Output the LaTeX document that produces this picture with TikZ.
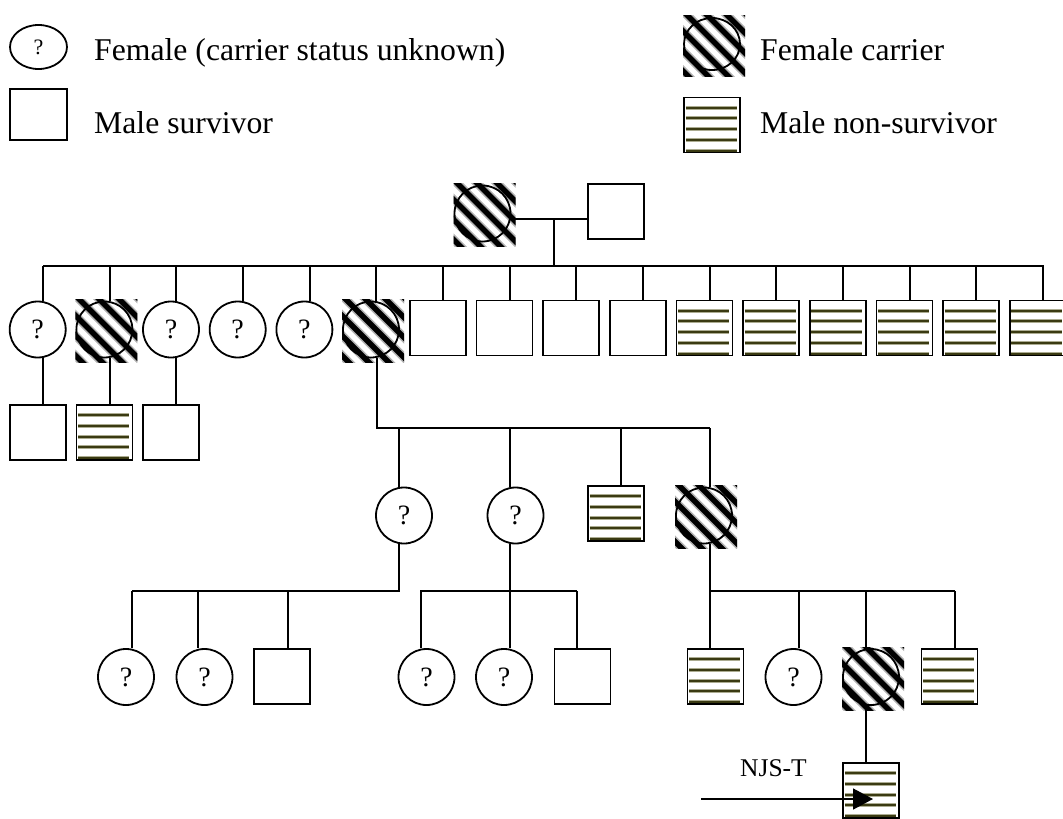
\documentclass[tikz,border=0pt]{standalone}
\usepackage{fontspec}
\setmainfont{Liberation Serif}
\usetikzlibrary{arrows.meta,shapes.geometric}
\definecolor{olivedark}{RGB}{58,58,18}
\definecolor{olivelight}{RGB}{172,172,145}
\newcommand\legfont{\fontsize{31.7}{38}\selectfont}
\newcommand\qfont{\fontsize{28}{32}\selectfont}
\newcommand\legqfont{\fontsize{22}{26}\selectfont}
\newcommand\njsfont{\fontsize{25.5}{30}\selectfont}
\tikzset{
  lw/.style={line width=1.8pt},
  fem/.style={circle, draw, lw, minimum size=56pt, inner sep=0pt, font=\qfont},
  msq/.style={rectangle, draw, lw, minimum width=56pt, minimum height=55pt, inner sep=0pt},
  hatchsoft/.style={line width=8.5pt, black!30},
  hatchcore/.style={line width=5.5pt, black},
  stripsoft/.style={line width=4pt, olivelight},
  stripcore/.style={line width=2pt, olivedark},
  legtext/.style={anchor=base west, inner sep=0pt, font=\legfont},
  link/.style={lw},
}
% diagonal stripes clipped to a box
\newcommand\hatchbox[4]{%
  \begin{scope}
    \clip (#1,#2) rectangle (#3,#4);
    \foreach \k in {-5,...,5}{
      \pgfmathsetmacro\sx{#1+4+20*(\k)-10}
      \pgfmathsetmacro\sy{#2-10}
      \draw[hatchsoft] (\sx,\sy) -- ++(95,95);
      \draw[hatchcore] (\sx,\sy) -- ++(95,95);
    }
  \end{scope}}
\newcommand\hatchc[3]{%
  \hatchbox{#2-29}{#3-30}{#2+33}{#3+33}%
  \node[fem] (#1) at (#2,#3) {};}
\newcommand\stripsq[3]{%
  \foreach \j in {0,...,4}{
    \pgfmathsetmacro\yy{#3-28+10.7+10.7*(\j)}
    \draw[stripsoft] (#2-26.5,\yy) -- (#2+24.5,\yy);
    \draw[stripcore] (#2-26.5,\yy) -- (#2+24.5,\yy);
  }
  \node[msq] (#1) at (#2,#3) {};}
\begin{document}
\begin{tikzpicture}[x=1pt,y=-1pt]
\useasboundingbox (0,0) rectangle (1063,819);

% ---------- legend ----------
\node[ellipse, draw, lw, minimum width=57pt, minimum height=44pt, inner sep=0pt, font=\legqfont] (legF) at (38.5,47) {?};
\node[msq, minimum width=57pt, minimum height=51pt] (legM) at (38.5,114.5) {};
\node[legtext] (legFt) at (94,60) {Female (carrier status unknown)};
\node[legtext] (legMt) at (94,133) {Male survivor};
\hatchbox{683}{15}{745}{76}
\node[ellipse, draw, lw, minimum width=56pt, minimum height=52pt, inner sep=0pt] (legC) at (712,44) {};
\stripsq{legN}{712}{125}
\node[legtext] (legCt) at (760,60) {Female carrier};
\node[legtext] (legNt) at (760,133) {Male non-survivor};

% ---------- generation I ----------
\hatchc{I1}{482.5}{213.5}
\node[msq] (I2) at (616,211.5) {};
\coordinate (mI) at (554,219);
\coordinate (barII) at (43,266);
\draw[link] ([yshift=-5.5pt]I1.east) -- (mI) -- ([yshift=-7.5pt]I2.west);
\draw[link] (mI) -- (mI |- barII);

% ---------- generation II ----------
\node[fem] (n1) at (37.7,329.5) {?};
\hatchc{n2}{104.4}{329.5}
\node[fem] (n3) at (171.0,329.5) {?};
\node[fem] (n4) at (237.7,329.5) {?};
\node[fem] (n5) at (304.4,329.5) {?};
\hatchc{n6}{371.0}{329.5}
\node[msq] (n7) at (437.7,328) {};
\node[msq] (n8) at (504.4,328) {};
\node[msq] (n9) at (571.0,328) {};
\node[msq] (n10) at (637.7,328) {};
\stripsq{n11}{704.4}{328}
\stripsq{n12}{771.0}{328}
\stripsq{n13}{837.7}{328}
\stripsq{n14}{904.4}{328}
\stripsq{n15}{971.0}{328}
\stripsq{n16}{1037.7}{328}
\foreach \i in {1,...,16}{
  \draw[link] ([xshift=5.3pt]n\i.north) |- (barII);
}

% ---------- generation III (left) ----------
\node[msq] (p1) at (37.7,432.5) {};
\stripsq{p2}{104.4}{432.5}
\node[msq] (p3) at (171.0,432.5) {};
\foreach \i in {1,2,3}{
  \draw[link] ([xshift=5.3pt]n\i.south) -- ([xshift=5.3pt]p\i.north);
}

% ---------- generation III (from n6) ----------
\coordinate (barIII) at (710,428);
\node[fem] (gA) at (404,515.5) {?};
\node[fem] (gB) at (515.5,515.5) {?};
\stripsq{gC}{616}{513.5}
\hatchc{gD}{704}{515.5}
\draw[link] ([xshift=6pt]n6.south) |- (barIII);
\draw[link] ([xshift=-5pt]gA.north) |- (barIII);
\draw[link] ([xshift=-5.5pt]gB.north) |- (barIII);
\draw[link] ([xshift=5pt]gC.north) |- (barIII);
\draw[link] ([xshift=6pt]gD.north) |- (barIII);

% ---------- generation IV ----------
\coordinate (barIVa) at (132,591);
\node[fem] (h1) at (126,677) {?};
\node[fem] (h2) at (204.5,677) {?};
\node[msq] (h3) at (282,676.5) {};
\draw[link] ([xshift=-5pt]gA.south) |- (barIVa);
\draw[link] ([xshift=6pt]h1.north) |- (barIVa);
\draw[link] ([xshift=-6.5pt]h2.north) |- (barIVa);
\draw[link] ([xshift=6pt]h3.north) |- (barIVa);

\coordinate (barIVb) at (577,591);
\node[fem] (j1) at (426.5,677) {?};
\node[fem] (j2) at (504,677) {?};
\node[msq] (j3) at (582.5,676.5) {};
\draw[link] ([xshift=-5.5pt]gB.south) -- ([xshift=6pt]j2.north);
\draw[link] ([xshift=-5.5pt]j1.north) |- (barIVb);
\draw[link] ([xshift=-5.5pt]j3.north) |- (barIVb);

\coordinate (barIVc) at (955,591);
\stripsq{k1}{715.5}{676.5}
\node[fem] (k2) at (793.5,677) {?};
\hatchc{k3}{871}{677}
\stripsq{k4}{949.5}{676.5}
\draw[link] ([xshift=6pt]gD.south) -- ([xshift=-5.5pt]k1.north);
\draw[link] ([xshift=-5.5pt]k1.north) |- (barIVc);
\draw[link] ([xshift=5.5pt]k2.north) |- (barIVc);
\draw[link] ([xshift=-5pt]k3.north) |- (barIVc);
\draw[link] ([xshift=5.5pt]k4.north) |- (barIVc);

% ---------- generation V ----------
\stripsq{l1}{871}{790.5}
\draw[link] ([xshift=-5pt]k3.south) -- ([xshift=-5pt]l1.north);

% ---------- proband arrow ----------
\coordinate (astart) at (701,799);
\draw[line width=1.6pt, -{Triangle[length=20pt,width=21pt]}] (astart) -- ([xshift=2pt,yshift=-8.5pt]l1.center);
\node[anchor=base, inner sep=0pt, font=\njsfont] (njs) at (773.5,776) {NJS-T};
\end{tikzpicture}
\end{document}
